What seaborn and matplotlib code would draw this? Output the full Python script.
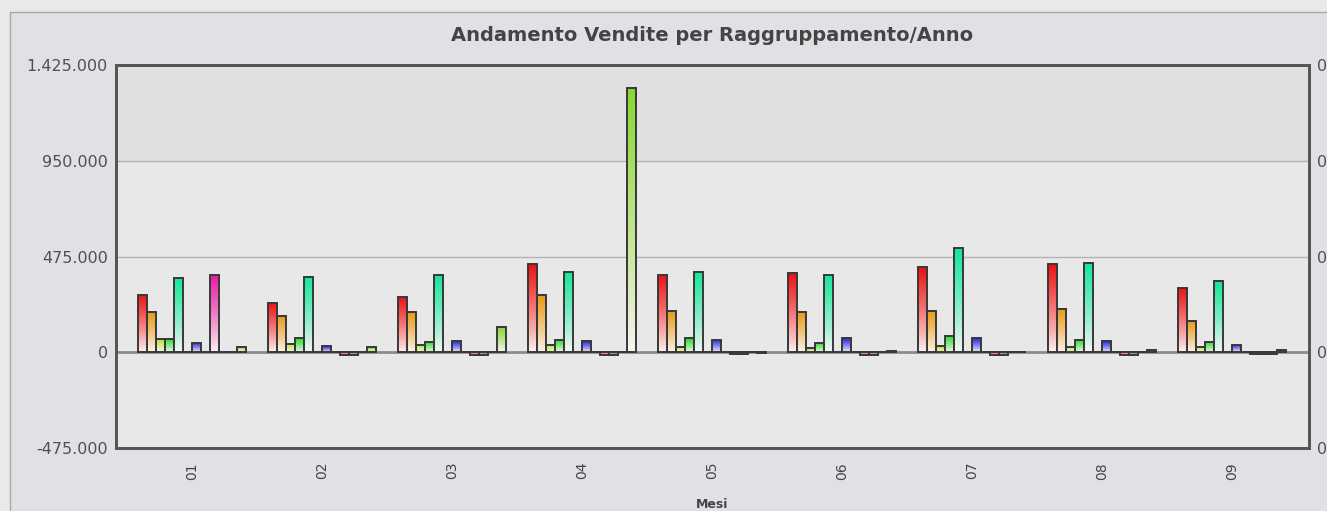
import numpy as np
import pandas as pd
import seaborn as sns
import matplotlib.pyplot as plt
from matplotlib.colors import LinearSegmentedColormap, to_rgb
from matplotlib.patches import Rectangle
from matplotlib.ticker import FuncFormatter

# Dati (valori in euro)
mesi = ['01', '02', '03', '04', '05', '06', '07', '08', '09']
gruppi = ['G01', 'G02', 'G03', 'G04', 'G05', 'G06', 'G07', 'G08', 'G09', 'G10', 'G11', 'G12']

g01 = [282800, 245600, 275000, 437500, 383000, 391000, 420700, 437500, 321000]
g02 = [200000, 180000, 201000, 283700, 206000, 201000, 206000, 214000, 155000]
g03 = [64500, 42000, 36000, 36000, 27000, 19000, 29000, 27000, 27000]
g04 = [64500, 68500, 52000, 62000, 68500, 45500, 82000, 62000, 52000]
g05 = [368600, 373000, 383000, 399400, 399000, 383000, 515000, 444000, 351000]
g06 = [0, 0, 0, 0, 0, 0, 0, 0, 0]
g07 = [48000, 29000, 53500, 53500, 62000, 68500, 68500, 53500, 36000]
g08 = [0, 0, 0, 0, 0, 0, 0, 0, 0]
g09 = [385500, -12000, -12000, -12000, -10000, -12000, -12000, -12000, -10000]
g10 = [0, -12000, -12000, -12000, -10000, -12000, -12000, -12000, -10000]
g11 = [0, 0, 0, 0, 0, 0, 0, 0, -10000]
g12 = [26000, 24000, 123000, 1312000, -6000, 4000, 3000, 13000, 13000]

colori = ['#ee1111', '#e89a10', '#aee628', '#22dd22', '#11e899', '#22aaee',
          '#2424e6', '#8822cc', '#e81ca0', '#555555', '#444444', '#88d830']

valori = [g01, g02, g03, g04, g05, g06, g07, g08, g09, g10, g11, g12]
righe = []
for nome, serie in zip(gruppi, valori):
    for m, v in zip(mesi, serie):
        righe.append({'mese': m, 'gruppo': nome, 'valore': v})
df = pd.DataFrame(righe)

sns.set_theme(style='white')
plt.rcParams['font.family'] = ['DejaVu Sans']

fig = plt.figure(figsize=(13.27, 5.11), dpi=100, facecolor='#e9e9e9')
fig.patches.append(Rectangle((10 / 1327, -0.02), 1.0, 1 - 12 / 511 + 0.02,
                             transform=fig.transFigure, facecolor='#e1e1e5',
                             edgecolor='#a8a8a8', lw=1, zorder=-10))

ax = fig.add_axes([116 / 1327, 1 - 448 / 511, (1309 - 116) / 1327, (448 - 65) / 511])
ax.set_facecolor('#e8e8e8')

sns.barplot(data=df, x='mese', y='valore', hue='gruppo', palette=colori,
            width=0.83, gap=0, edgecolor='#383838', linewidth=1.4,
            errorbar=None, legend=False, ax=ax)

# riempimento sfumato: colore pieno in alto, quasi bianco in basso
for cont, col in zip(ax.containers, colori):
    cmap = LinearSegmentedColormap.from_list('g', [(0, '#fbf4f4'), (1, to_rgb(col))])
    grad = np.linspace(0, 1, 128).reshape(-1, 1) ** 0.85
    for bar in cont:
        x, y = bar.get_xy()
        w, h = bar.get_width(), bar.get_height()
        bar.set_facecolor('none')
        bar.set_zorder(3)
        if h == 0:
            continue
        im = ax.imshow(grad, extent=(x, x + w, min(y, y + h), max(y, y + h)),
                       origin='lower', cmap=cmap, aspect='auto', zorder=2.5)
        im.set_clip_path(bar)

ax.axhspan(950000, 1425000, color='#e0e0e0', zorder=0)
for yv in [475000, 950000]:
    ax.axhline(yv, color='#b4b4b4', lw=1, zorder=1)
ax.axhline(0, color='#8c8c8c', lw=2, zorder=1)

yticks = [-475000, 0, 475000, 950000, 1425000]
ax.set_ylim(-475000, 1425000)
ax.set_xlim(-0.585, 8.59)
ax.set_yticks(yticks)
ax.yaxis.set_major_formatter(FuncFormatter(lambda v, p: f'{v:,.0f}'.replace(',', '.')))
ax.set_xlabel('')
ax.set_ylabel('')
ax.tick_params(axis='y', length=0, pad=6, labelsize=11.5, labelcolor='#505050')
ax.tick_params(axis='x', length=0, pad=10, labelsize=10, labelcolor='#444444', rotation=90)

ax2 = ax.twinx()
ax2.set_ylim(-475000, 1425000)
ax2.set_yticks(yticks)
ax2.set_yticklabels(['0'] * len(yticks))
ax2.tick_params(axis='y', length=0, pad=6, labelsize=11.5, labelcolor='#505050')

for a in (ax, ax2):
    for s in a.spines.values():
        s.set_color('#555555')
        s.set_linewidth(2)

fig.text(712 / 1327, 1 - 35 / 511, 'Andamento Vendite per Raggruppamento/Anno',
         ha='center', va='center', fontsize=14, fontweight='bold', color='#444444')
fig.text(712 / 1327, 1 - 504 / 511, 'Mesi', ha='center', va='center',
         fontsize=9, fontweight='bold', color='#444444')

fig.savefig('out.png', dpi=100, facecolor=fig.get_facecolor())
print("File successfully saved.")
